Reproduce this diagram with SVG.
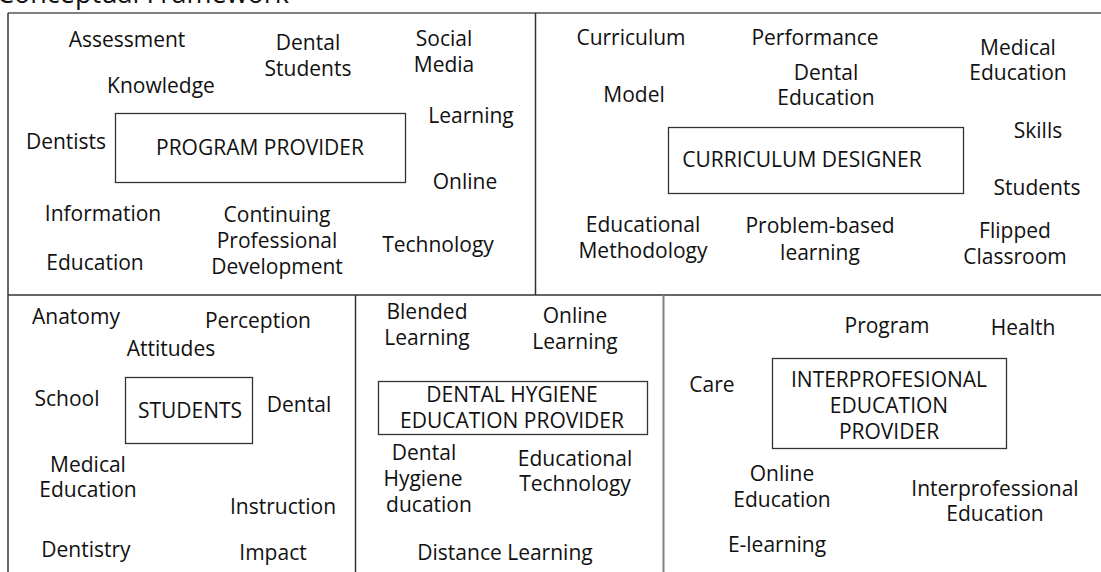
<svg xmlns="http://www.w3.org/2000/svg" width="1101" height="572" viewBox="0 0 1101 572">
  <style>
    text { font-family: "Open Sans", "Liberation Sans", sans-serif; font-size: 21px; fill: #111; text-anchor: middle; }
    .title { font-size: 27px; text-anchor: start; }
    .box { fill: #fff; stroke: #333; stroke-width: 1.3; }
    .rule { stroke: #333; stroke-width: 1.5; fill: none; }
    .rule-light { stroke: #808080; stroke-width: 2; fill: none; }
  </style>
  <rect width="1101" height="572" fill="#fff"/>

  <!-- heading, clipped by the top edge -->
  <text class="title" x="-3" y="3">Conceptual Framework</text>

  <!-- frame and panel dividers -->
  <g id="dividers">
    <line class="rule-light" x1="8" y1="13" x2="1101" y2="13"/>
    <line class="rule" x1="8" y1="13" x2="8" y2="572"/>
    <line class="rule" x1="535.5" y1="13" x2="535.5" y2="295"/>
    <line class="rule" x1="8" y1="295" x2="1101" y2="295"/>
    <line class="rule" x1="355.5" y1="295" x2="355.5" y2="572"/>
    <line class="rule-light" x1="663.5" y1="295" x2="663.5" y2="572"/>
  </g>

  <!-- connectors: none drawn -->
  <g id="connectors"/>

  <!-- Panel 1: program provider -->
  <g id="program-provider">
    <rect class="box" x="115.5" y="113.5" width="290" height="69"/>
    <text x="260" y="155">PROGRAM PROVIDER</text>
  </g>
  <g id="program-provider-terms">
    <text x="127" y="47">Assessment</text>
    <text x="308" y="50">Dental<tspan x="308" dy="26">Students</tspan></text>
    <text x="444" y="46">Social<tspan x="444" dy="26">Media</tspan></text>
    <text x="161" y="93">Knowledge</text>
    <text x="471" y="123">Learning</text>
    <text x="66" y="149">Dentists</text>
    <text x="465" y="189">Online</text>
    <text x="103" y="221">Information</text>
    <text x="277" y="222">Continuing<tspan x="277" dy="26">Professional</tspan><tspan x="277" dy="26">Development</tspan></text>
    <text x="438" y="252">Technology</text>
    <text x="95" y="270">Education</text>
  </g>

  <!-- Panel 2: curriculum designer -->
  <g id="curriculum-designer">
    <rect class="box" x="668.5" y="127.5" width="295" height="66"/>
    <text x="802" y="167">CURRICULUM DESIGNER</text>
  </g>
  <g id="curriculum-designer-terms">
    <text x="631" y="45">Curriculum</text>
    <text x="815" y="45">Performance</text>
    <text x="1018" y="55">Medical<tspan x="1018" dy="25">Education</tspan></text>
    <text x="826" y="80">Dental<tspan x="826" dy="25">Education</tspan></text>
    <text x="634" y="102">Model</text>
    <text x="1038" y="138">Skills</text>
    <text x="1037" y="195">Students</text>
    <text x="643" y="232">Educational<tspan x="643" dy="26">Methodology</tspan></text>
    <text x="820" y="233">Problem-based<tspan x="820" dy="27">learning</tspan></text>
    <text x="1015" y="238">Flipped<tspan x="1015" dy="26">Classroom</tspan></text>
  </g>

  <!-- Panel 3: students -->
  <g id="students">
    <rect class="box" x="125.5" y="377.5" width="127" height="66"/>
    <text x="190" y="418">STUDENTS</text>
  </g>
  <g id="students-terms">
    <text x="76" y="324">Anatomy</text>
    <text x="258" y="328">Perception</text>
    <text x="171" y="356">Attitudes</text>
    <text x="67" y="406">School</text>
    <text x="299" y="412">Dental</text>
    <text x="88" y="472">Medical<tspan x="88" dy="25">Education</tspan></text>
    <text x="283" y="514">Instruction</text>
    <text x="86" y="557">Dentistry</text>
    <text x="273" y="560">Impact</text>
  </g>

  <!-- Panel 4: dental hygiene education provider -->
  <g id="dental-hygiene-provider">
    <rect class="box" x="378.5" y="381.5" width="269" height="53"/>
    <text x="512" y="402">DENTAL HYGIENE<tspan x="512" dy="26">EDUCATION PROVIDER</tspan></text>
  </g>
  <g id="dental-hygiene-terms">
    <text x="427" y="319">Blended<tspan x="427" dy="26">Learning</tspan></text>
    <text x="575" y="323">Online<tspan x="575" dy="26">Learning</tspan></text>
    <text x="424" y="460">Dental<tspan x="423" dy="26">Hygiene</tspan><tspan x="429" dy="26">ducation</tspan></text>
    <text x="575" y="466">Educational<tspan x="575" dy="25">Technology</tspan></text>
    <text x="505" y="560">Distance Learning</text>
  </g>

  <!-- Panel 5: interprofessional education provider -->
  <g id="interprofessional-provider">
    <rect class="box" x="772.5" y="358.5" width="234" height="90"/>
    <text x="889" y="387">INTERPROFESIONAL<tspan x="889" dy="26">EDUCATION</tspan><tspan x="889" dy="26">PROVIDER</tspan></text>
  </g>
  <g id="interprofessional-terms">
    <text x="887" y="333">Program</text>
    <text x="1023" y="335">Health</text>
    <text x="712" y="392">Care</text>
    <text x="782" y="481">Online<tspan x="782" dy="26">Education</tspan></text>
    <text x="995" y="496">Interprofessional<tspan x="995" dy="25">Education</tspan></text>
    <text x="777" y="552">E-learning</text>
  </g>
</svg>
